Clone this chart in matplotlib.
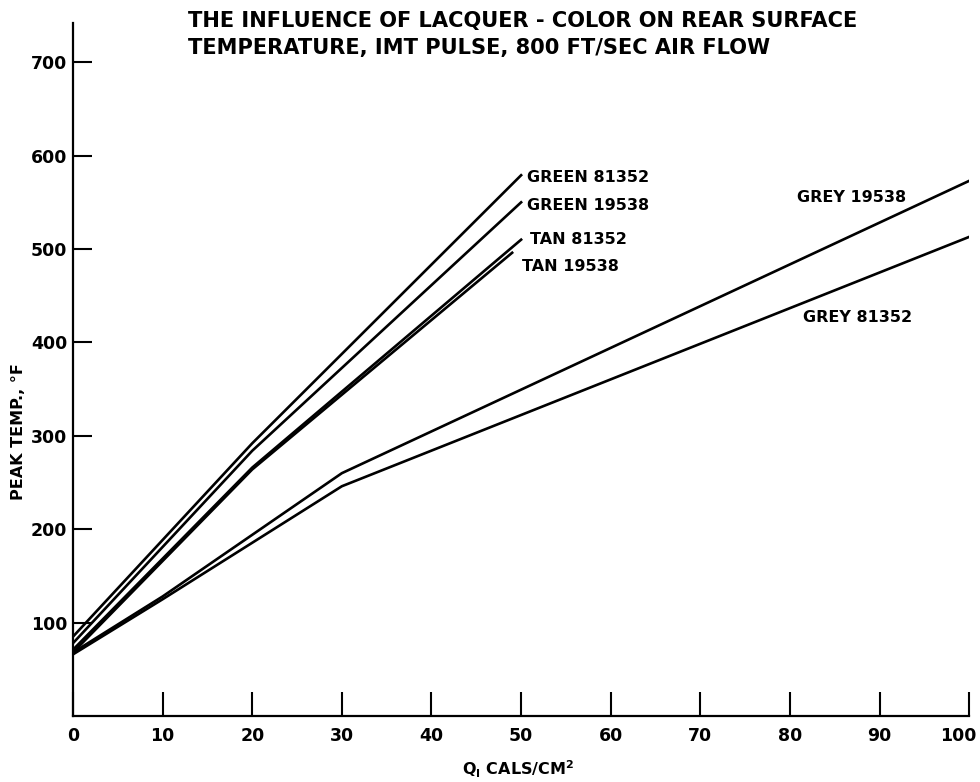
import matplotlib.pyplot as plt
import matplotlib.transforms as mtransforms

# values (Q in cal/cm2, peak temp in F)
green_81352_q = [0, 20, 50]
green_81352_t = [85, 292, 579]
green_19538_q = [0, 20, 50]
green_19538_t = [78, 284, 550]
tan_81352_q = [0, 20, 50]
tan_81352_t = [71, 266, 510]
tan_19538_q = [0, 20, 49]
tan_19538_t = [68, 264, 496]
grey_19538_q = [0, 10, 30, 100]
grey_19538_t = [68, 128, 260, 573]
grey_81352_q = [0, 10, 30, 100]
grey_81352_t = [66, 125, 246, 513]

x_ticks = [0, 10, 20, 30, 40, 50, 60, 70, 80, 90, 100]
y_ticks = [100, 200, 300, 400, 500, 600, 700]

plt.rcParams['font.family'] = 'DejaVu Sans'
plt.rcParams['font.weight'] = 'bold'
plt.rcParams['mathtext.fontset'] = 'dejavusans'

fig = plt.figure(figsize=(9.8, 7.82), dpi=100)
ax = fig.add_axes([0.0745, 0.0844, 0.9145, 0.8862])

lw = 1.9
ax.plot(green_81352_q, green_81352_t, color='black', lw=lw)
ax.plot(green_19538_q, green_19538_t, color='black', lw=lw)
ax.plot(tan_81352_q, tan_81352_t, color='black', lw=lw)
ax.plot(tan_19538_q, tan_19538_t, color='black', lw=lw)
ax.plot(grey_19538_q, grey_19538_t, color='black', lw=lw)
ax.plot(grey_81352_q, grey_81352_t, color='black', lw=lw)

fs = 11.5
ax.text(50.7, 577, 'GREEN 81352', fontsize=fs, fontweight='bold', va='center')
ax.text(50.7, 547, 'GREEN 19538', fontsize=fs, fontweight='bold', va='center')
ax.text(51.0, 510, 'TAN 81352', fontsize=fs, fontweight='bold', va='center')
ax.text(50.1, 481, 'TAN 19538', fontsize=fs, fontweight='bold', va='center')
ax.text(80.8, 555, 'GREY 19538', fontsize=fs, fontweight='bold', va='center')
ax.text(81.4, 427, 'GREY 81352', fontsize=fs, fontweight='bold', va='center')

ax.set_xlim(0, 100)
ax.set_ylim(0, 742)
ax.set_xticks(x_ticks)
ax.set_yticks(y_ticks)
ax.tick_params(axis='x', direction='in', length=17, width=1.5, pad=8, labelsize=12.5)
ax.tick_params(axis='y', direction='in', length=14, width=1.5, pad=4, labelsize=12.5)
for lab in ax.get_xticklabels() + ax.get_yticklabels():
    lab.set_fontweight('bold')
# last label sits a bit left of its tick, like the original
last = ax.get_xticklabels()[-1]
last.set_transform(last.get_transform() + mtransforms.ScaledTranslation(-8 / 72, 0, fig.dpi_scale_trans))

ax.spines['top'].set_visible(False)
ax.spines['right'].set_visible(False)
ax.spines['left'].set_linewidth(1.6)
ax.spines['bottom'].set_linewidth(1.6)

ax.set_ylabel('PEAK TEMP., °F', fontsize=11.5, fontweight='bold')
ax.yaxis.set_label_coords(-0.052, 0.41)
ax.set_xlabel(r'Q$_\mathbf{I}$ CALS/CM$^\mathbf{2}$', fontsize=11.5, fontweight='bold', va='center')
ax.xaxis.set_label_coords(0.497, -0.077)

fig.text(0.192, 0.986, 'THE INFLUENCE OF LACQUER - COLOR ON REAR SURFACE\n'
         'TEMPERATURE, IMT PULSE, 800 FT/SEC AIR FLOW',
         fontsize=15.1, fontweight='bold', va='top', ha='left', linespacing=1.45)

fig.savefig('out.png', dpi=100)
